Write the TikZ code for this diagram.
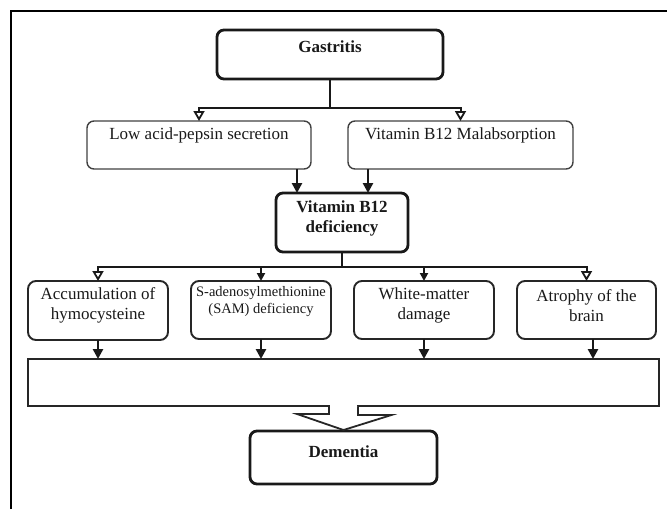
\documentclass[tikz,border=0pt]{standalone}
\usepackage{fontspec}
\setmainfont{Liberation Serif}
\usetikzlibrary{arrows.meta,calc}
\begin{document}
\begin{tikzpicture}[x=1pt,y=-1pt,
  boxbase/.style={rectangle, inner sep=0pt, outer sep=0pt},
  thickbox/.style={boxbase, draw=black!90, line width=2.8pt, rounded corners=7pt},
  thinbox/.style={boxbase, draw=black!75, line width=1.4pt, rounded corners=7pt},
  midbox/.style={boxbase, draw=black!85, line width=1.9pt, rounded corners=8pt},
  widebox/.style={boxbase, draw=black!85, line width=1.9pt},
  txt/.style={font=\fontsize{17}{20}\selectfont, text=black!90, align=center, inner sep=0pt},
  btxt/.style={txt, font=\fontsize{17}{20}\selectfont\bfseries},
  stxt/.style={txt, font=\fontsize{14.5}{17}\selectfont},
  ln/.style={line width=2pt, draw=black!90},
  openarr/.style={ln, -{Triangle[open, width=11pt, length=10pt, line width=1.8pt]}},
  smallarr/.style={ln, -{Triangle[width=8pt, length=8pt]}},
  thkarr/.style={line width=2.8pt, draw=black!90, -{Triangle[width=10pt, length=10pt]}},
  blk/.style={line width=1.8pt, draw=black!85, fill=white, line join=miter},
  frame/.style={line width=2.6pt, draw=black}
]
\useasboundingbox (0,0) rectangle (667,509);
\draw[frame] (11,509) -- (11,11) -- (667,11);

% boxes
\node[thickbox, minimum width=226pt, minimum height=49pt] (gas) at (330,54.5) {};
\node[thinbox, minimum width=224pt, minimum height=48pt] (low) at (199,145) {};
\node[thinbox, minimum width=225pt, minimum height=48pt] (mal) at (460.5,145) {};
\node[thickbox, minimum width=132pt, minimum height=59pt] (def) at (342,222.5) {};
\node[midbox, minimum width=140pt, minimum height=59pt] (acc) at (98,310.5) {};
\node[midbox, minimum width=140pt, minimum height=58pt] (sam) at (261,310) {};
\node[midbox, minimum width=140pt, minimum height=58pt] (wht) at (424,310) {};
\node[midbox, minimum width=139pt, minimum height=58pt] (atr) at (586.5,310) {};
\node[widebox, minimum width=631pt, minimum height=47pt] (wide) at (343.5,382.5) {};
\node[thickbox, minimum width=187pt, minimum height=53pt] (dem) at (343.5,457.5) {};

% texts
\node[btxt] (gast) at (330,47) {Gastritis};
\node[txt] (lowt) at (199,135) {Low acid-pepsin secretion};
\node[txt] (malt) at (460.5,135) {Vitamin B12 Malabsorption};
\node[btxt] (deft) at (342,218) {Vitamin B12\\deficiency};
\node[txt] (acct) at (98,305) {Accumulation of\\hymocysteine};
\node[stxt] (samt) at (261,301.5) {S-adenosylmethionine\\(SAM) deficiency};
\node[txt] (whtt) at (424,305.5) {White-matter\\damage};
\node[txt] (atrt) at (586.5,305.5) {Atrophy of the\\brain};
\node[btxt] (demt) at (343.5,452) {Dementia};

% connectors level 1
\coordinate (gj) at (330,108);
\draw[ln] (gas.south) -- (gj);
\draw[openarr] (gj) -| (low.north);
\draw[openarr] (gj) -| (mal.north);

% to deficiency
\draw[thkarr] ([xshift=98pt]low.south) -- ([xshift=98pt]low.south |- def.north);
\draw[thkarr] ([xshift=-92.5pt]mal.south) -- ([xshift=-92.5pt]mal.south |- def.north);

% level 2
\coordinate (dj) at (342,267);
\draw[ln] (def.south) -- (dj);
\draw[openarr] (dj) -| (acc.north);
\draw[openarr] (dj) -| (atr.north);
\draw[smallarr] (dj) -| (sam.north);
\draw[smallarr] (dj) -| (wht.north);

% to wide box
\draw[thkarr] (acc.south) -- (acc.south |- wide.north);
\draw[thkarr] (sam.south) -- (sam.south |- wide.north);
\draw[thkarr] (wht.south) -- (wht.south |- wide.north);
\draw[thkarr] ([xshift=6.5pt]atr.south) -- ([xshift=6.5pt]atr.south |- wide.north);

% block arrow
\fill[white] ([xshift=-13.6pt,yshift=2pt]wide.south) rectangle ([xshift=13.6pt,yshift=-2pt]wide.south);
\draw[blk] ([xshift=-14.5pt]wide.south) -- ++(0,8) -- ++(-32,0) -- ([yshift=1pt]dem.north) -- ++(48,-15) -- ++(-33.5,0) -- ++(0,-8);
\end{tikzpicture}
\end{document}
